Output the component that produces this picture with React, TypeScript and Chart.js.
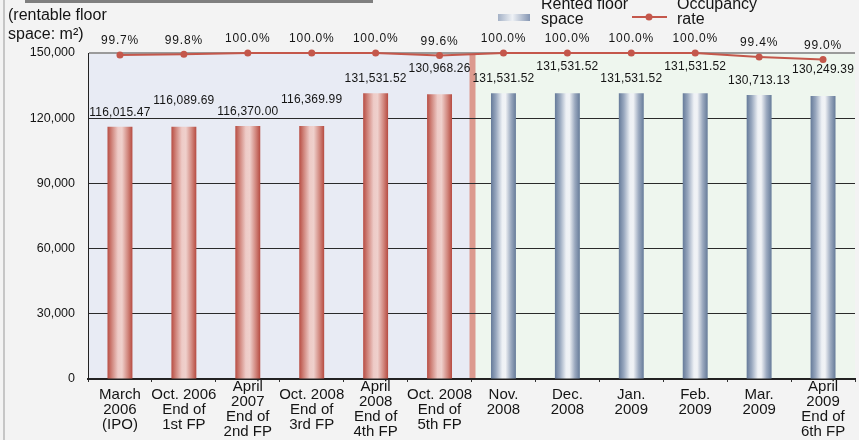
import React, { useEffect, useRef } from "react";
import { Chart, registerables } from "chart.js";

Chart.register(...registerables);

// Period labels (multi-line)
const categories: string[][] = [
  ["March", "2006", "(IPO)"],
  ["Oct. 2006", "End of", "1st FP"],
  ["April", "2007", "End of", "2nd FP"],
  ["Oct. 2008", "End of", "3rd FP"],
  ["April", "2008", "End of", "4th FP"],
  ["Oct. 2008", "End of", "5th FP"],
  ["Nov.", "2008"],
  ["Dec.", "2008"],
  ["Jan.", "2009"],
  ["Feb.", "2009"],
  ["Mar.", "2009"],
  ["April", "2009", "End of", "6th FP"],
];

// Rented floor space (m²)
const rentedFloorSpace: number[] = [
  116015.47, 116089.69, 116370.0, 116369.99, 131531.52, 130968.26,
  131531.52, 131531.52, 131531.52, 131531.52, 130713.13, 130249.39,
];

// Occupancy rate (%)
const occupancyRate: number[] = [
  99.7, 99.8, 100.0, 100.0, 100.0, 99.6, 100.0, 100.0, 100.0, 100.0, 99.4, 99.0,
];

const floorAxisMax = 150000;
const floorAxisStep = 30000;
const rateAxisMin = 50;
const rateAxisMax = 100;

// The first periods are fiscal-period ends; the rest are monthly figures.
const fiscalPeriodCount = 6;

const BAR_PCT = 0.39;
const FONT = "'Liberation Sans', Arial, sans-serif";
const TEXT = "#141414";

const redStops: [number, string][] = [
  [0, "#b84d43"],
  [0.18, "#d0857c"],
  [0.42, "#eecbc7"],
  [0.58, "#efd0cc"],
  [0.82, "#d1867d"],
  [1, "#b64b41"],
];
const blueStops: [number, string][] = [
  [0, "#657a99"],
  [0.2, "#98a7be"],
  [0.45, "#eef1f5"],
  [0.58, "#f1f3f6"],
  [0.8, "#9ba9bf"],
  [1, "#667b99"],
];

const fmtFloor = (v: number) =>
  v.toLocaleString("en-US", { minimumFractionDigits: 2, maximumFractionDigits: 2 });

const decorPlugin = {
  id: "decor",
  beforeDraw(chart: any) {
    const { ctx, chartArea, width, height } = chart;
    const x = chart.scales.x;
    ctx.save();
    ctx.fillStyle = "#f3f3f3";
    ctx.fillRect(0, 0, width, height);
    // left frame line
    ctx.fillStyle = "#c6c6c6";
    ctx.fillRect(3, 0, 2, height);
    // header strip
    ctx.fillStyle = "#7f7f7f";
    ctx.fillRect(25, 0, 348, 3);

    const split =
      (x.getPixelForValue(fiscalPeriodCount - 1) + x.getPixelForValue(fiscalPeriodCount)) / 2 + 1;
    ctx.fillStyle = "#e8ebf4";
    ctx.fillRect(chartArea.left, chartArea.top, split - chartArea.left, chartArea.bottom - chartArea.top);
    ctx.fillStyle = "#eef6ee";
    ctx.fillRect(split, chartArea.top, chartArea.right - split, chartArea.bottom - chartArea.top);
    ctx.fillStyle = "#dc9a8e";
    ctx.fillRect(split - 3, chartArea.top, 6, chartArea.bottom - chartArea.top);
    ctx.restore();
  },
  afterDatasetsDraw(chart: any) {
    const { ctx } = chart;
    const barMeta = chart.getDatasetMeta(0);
    const lineMeta = chart.getDatasetMeta(1);
    ctx.save();
    ctx.textAlign = "center";
    ctx.textBaseline = "middle";
    ctx.fillStyle = TEXT;
    ctx.font = `12px ${FONT}`;
    (ctx as any).letterSpacing = "0.2px";
    barMeta.data.forEach((bar: any, i: number) => {
      const off = i % 2 === 0 ? 14 : 26;
      ctx.fillText(fmtFloor(rentedFloorSpace[i]), bar.x, bar.y - off);
    });
    (ctx as any).letterSpacing = "0.8px";
    lineMeta.data.forEach((pt: any, i: number) => {
      ctx.fillText(occupancyRate[i].toFixed(1) + "%", pt.x, pt.y - 14);
    });
    ctx.restore();
  },
  afterDraw(chart: any) {
    const { ctx } = chart;
    ctx.save();
    ctx.fillStyle = TEXT;
    ctx.textAlign = "left";
    ctx.textBaseline = "middle";
    ctx.font = `16px ${FONT}`;
    // floor-space axis unit
    ctx.fillText("(rentable floor", 8, 16);
    ctx.fillText("space: m²)", 8, 35);

    // legend: rented floor space
    const g = ctx.createLinearGradient(498, 0, 530, 0);
    g.addColorStop(0, "#a4b1c6");
    g.addColorStop(0.45, "#eef1f5");
    g.addColorStop(1, "#8495b2");
    ctx.fillStyle = g;
    ctx.fillRect(498, 14, 32, 7);
    ctx.fillStyle = TEXT;
    ctx.fillText("Rented floor", 541, 5);
    ctx.fillText("space", 541, 20);

    // legend: occupancy rate
    ctx.strokeStyle = "#c4574b";
    ctx.lineWidth = 2;
    ctx.beginPath();
    ctx.moveTo(632, 17);
    ctx.lineTo(667, 17);
    ctx.stroke();
    ctx.fillStyle = "#c4574b";
    ctx.beginPath();
    ctx.arc(649, 17, 3.5, 0, Math.PI * 2);
    ctx.fill();
    ctx.fillStyle = TEXT;
    ctx.fillText("Occupancy", 677, 5);
    ctx.fillText("rate", 677, 20);
    ctx.restore();
  },
};

export default function App() {
  const canvasRef = useRef<HTMLCanvasElement | null>(null);

  useEffect(() => {
    document.body.style.margin = "0";
    document.body.style.background = "#f3f3f3";
    const canvas = canvasRef.current;
    if (!canvas) return;

    const barFill = (c: any) => {
      const chart = c.chart;
      const xs = chart.scales?.x;
      const i = c.dataIndex;
      const stops = i < fiscalPeriodCount ? redStops : blueStops;
      if (!xs || i === undefined || !isFinite(xs.getPixelForValue(i))) return stops[0][1];
      const cx = xs.getPixelForValue(i);
      const w = (xs.width / categories.length) * BAR_PCT;
      const g = chart.ctx.createLinearGradient(cx - w / 2, 0, cx + w / 2, 0);
      stops.forEach(([o, col]) => g.addColorStop(o, col));
      return g;
    };

    const chart = new Chart(canvas, {
      type: "bar",
      data: {
        labels: categories,
        datasets: [
          {
            type: "bar",
            label: "Rented floor space",
            data: rentedFloorSpace,
            backgroundColor: barFill,
            borderWidth: 0,
            categoryPercentage: 1,
            barPercentage: BAR_PCT,
            yAxisID: "y",
            order: 2,
          },
          {
            type: "line",
            label: "Occupancy rate",
            data: occupancyRate,
            borderColor: "#c4574b",
            backgroundColor: "#c4574b",
            borderWidth: 2,
            pointRadius: 3.5,
            pointBorderWidth: 0,
            pointBackgroundColor: "#c4574b",
            tension: 0,
            yAxisID: "y1",
            clip: false as any,
            order: 1,
          },
        ],
      },
      options: {
        responsive: false,
        animation: false,
        devicePixelRatio: 1,
        layout: { padding: { top: 53, left: 0, right: 0, bottom: 0 } },
        plugins: {
          legend: { display: false },
          tooltip: { enabled: false },
        },
        scales: {
          x: {
            offset: true,
            grid: {
              display: true,
              offset: true,
              drawOnChartArea: false,
              drawTicks: true,
              tickLength: 3,
              color: "#333",
            },
            border: { display: true, color: "#222", width: 2 },
            ticks: {
              autoSkip: false,
              maxRotation: 0,
              minRotation: 0,
              padding: 5,
              crossAlign: "center",
              color: TEXT,
              font: { family: FONT, size: 15, lineHeight: 1 },
              // two-line month labels sit in a three-line slot
              callback: (_v: any, i: number) => {
                const l = categories[i];
                return l.length === 2 ? [...l, ""] : l;
              },
            },
            afterFit: (s: any) => {
              s.height = 61;
            },
          },
          y: {
            min: 0,
            max: floorAxisMax,
            ticks: {
              stepSize: floorAxisStep,
              padding: 13,
              color: TEXT,
              font: { family: FONT, size: 12.5 },
              callback: (v: any) => Number(v).toLocaleString("en-US"),
            },
            grid: {
              drawTicks: false,
              color: (c: any) => (c.tick && c.tick.value === floorAxisMax ? "#9a9a9a" : "#2a2a2a"),
              lineWidth: (c: any) => (c.tick && c.tick.value === floorAxisMax ? 2 : 1),
            },
            border: { display: true, color: "#222", width: 1 },
            afterFit: (s: any) => {
              s.width = 88;
            },
          },
          y1: {
            display: false,
            min: rateAxisMin,
            max: rateAxisMax,
          },
        },
      },
      plugins: [decorPlugin],
    });

    return () => chart.destroy();
  }, []);

  return (
    <div style={{ width: 859, height: 440 }}>
      <canvas ref={canvasRef} width={859} height={440} style={{ display: "block" }} />
    </div>
  );
}
